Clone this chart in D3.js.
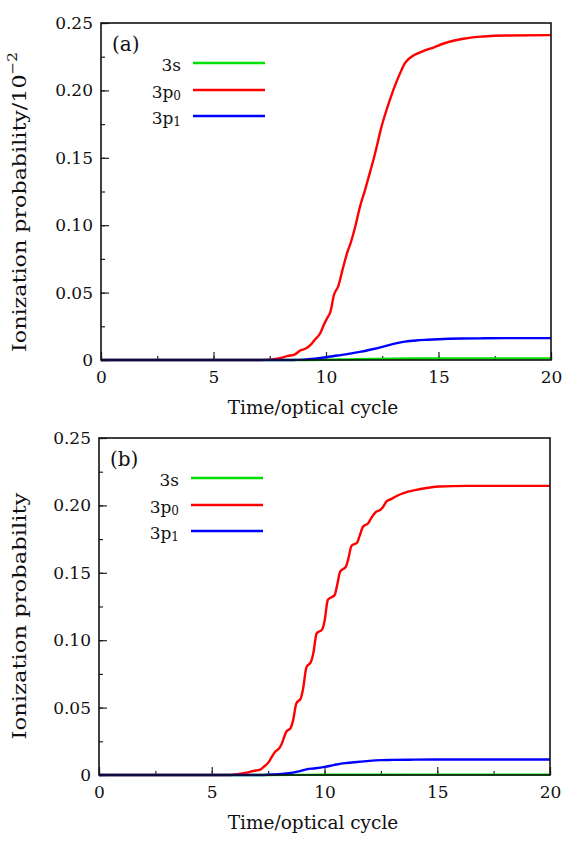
<!DOCTYPE html>
<html><head><meta charset="utf-8">
<script src="https://cdn.jsdelivr.net/npm/d3@7"></script>
<style>
html,body{margin:0;padding:0;background:#fff;}
text{font-family:"DejaVu Serif",serif;fill:#111;}
</style></head>
<body><svg id="c" width="566" height="841"></svg>
<script>
// ---- data ----
const xTicks = [0, 5, 10, 15, 20];
const yTicks = [0, 0.05, 0.10, 0.15, 0.20, 0.25];
const seriesNames = ["3s", "3p0", "3p1"];
const seriesColors = ["#00e000", "#ff0000", "#0000ff"];

// panel (a)  [time, probability]
const a3s = [[0,0],[9,0],[10,0.0002],[11,0.0005],[12,0.0008],[13,0.001],[14,0.0011],[16,0.0012],[20,0.0012]];
const a3p0 = [[0,0],[7.0,0],[7.6,0.0005],[8.0,0.0015],[8.3,0.003],[8.6,0.004],[8.85,0.007],[9.1,0.0085],[9.3,0.011],
  [9.5,0.015],[9.75,0.02],[9.9,0.026],[10.05,0.031],[10.2,0.036],[10.35,0.048],[10.55,0.055],[10.75,0.068],
  [10.95,0.08],[11.1,0.087],[11.3,0.099],[11.5,0.113],[11.75,0.127],[11.9,0.136],[12.1,0.148],[12.25,0.158],
  [12.45,0.172],[12.7,0.186],[12.9,0.196],[13.1,0.205],[13.3,0.213],[13.5,0.22],[13.65,0.223],[13.9,0.226],
  [14.3,0.229],[14.8,0.232],[15.2,0.2346],[15.7,0.237],[16.1,0.2383],[16.6,0.2395],[17,0.240],[18,0.2407],[20,0.241]];
const a3p1 = [[0,0],[8.5,0],[9.0,0.0003],[9.5,0.001],[10,0.002],[10.5,0.0033],[11,0.0045],[11.5,0.006],[12,0.0078],
  [12.5,0.0098],[13,0.012],[13.5,0.0136],[14,0.0145],[14.5,0.015],[15,0.0154],[16,0.0159],[17,0.0161],[18,0.0162],[20,0.0162]];

// panel (b)
const b3s = [[0,0],[7.5,0],[9,0.0001],[11,0.0002],[14,0.0003],[20,0.0003]];
const b3p0 = [[0,0],[5.8,0],[6.2,0.0007],[6.6,0.002],[6.85,0.003],[7.15,0.004],[7.3,0.006],[7.5,0.009],[7.65,0.013],
  [7.8,0.017],[8.0,0.02],[8.1,0.023],[8.3,0.032],[8.5,0.035],[8.6,0.04],[8.75,0.053],[8.95,0.057],[9.05,0.064],
  [9.2,0.08],[9.4,0.084],[9.5,0.09],[9.65,0.105],[9.9,0.108],[10.0,0.114],[10.15,0.13],[10.45,0.1335],[10.55,0.14],
  [10.7,0.151],[10.95,0.1545],[11.05,0.16],[11.2,0.17],[11.45,0.1725],[11.55,0.177],[11.7,0.184],[11.95,0.187],
  [12.05,0.19],[12.25,0.1947],[12.5,0.197],[12.6,0.199],[12.75,0.203],[13.0,0.205],[13.2,0.207],[13.6,0.2097],
  [14.2,0.212],[15.1,0.214],[16.3,0.2145],[20,0.2145]];
const b3p1 = [[0,0],[7.3,0],[7.8,0.0005],[8.4,0.0013],[8.8,0.0025],[9.2,0.0042],[9.6,0.005],[10.0,0.006],[10.4,0.0073],
  [10.8,0.0086],[11.2,0.0093],[11.6,0.0099],[12.0,0.0105],[12.5,0.011],[13,0.0112],[14,0.0114],[16,0.0115],[20,0.0115]];

const panels = [
  {tag:"(a)", series:[a3s,a3p0,a3p1], ylabel:"Ionization probability/10", sup:"\u22122",
   box:{l:101,r:551,t:23,b:360}, ylab:{x:20, y:202, len:300}},
  {tag:"(b)", series:[b3s,b3p0,b3p1], ylabel:"Ionization probability", sup:null,
   box:{l:99,r:550,t:438,b:775}, ylab:{x:20, y:616, len:247}}
];

const svg = d3.select("#c");
const FS = 17;

panels.forEach(p => {
  const B = p.box;
  const x = d3.scaleLinear().domain([0,20]).range([B.l,B.r]);
  const y = d3.scaleLinear().domain([0,0.25]).range([B.b,B.t]);
  const g = svg.append("g");

  // minor ticks
  g.append("g").attr("transform",`translate(${B.l},0)`)
    .call(d3.axisLeft(y).tickValues(d3.range(0,0.2501,0.025)).tickSize(-4).tickFormat(""))
    .call(s=>s.select(".domain").remove())
    .call(s=>s.selectAll("line").attr("stroke","#222").attr("stroke-width",1.2));
  g.append("g").attr("transform",`translate(0,${B.b})`)
    .call(d3.axisBottom(x).tickValues(d3.range(0,20.01,2.5)).tickSize(-4).tickFormat(""))
    .call(s=>s.select(".domain").remove())
    .call(s=>s.selectAll("line").attr("stroke","#222").attr("stroke-width",1.2));

  // major ticks with labels
  g.append("g").attr("transform",`translate(${B.l},0)`)
    .call(d3.axisLeft(y).tickValues(yTicks).tickSize(-8).tickPadding(8)
      .tickFormat(d => d===0 ? "0" : d3.format(".2f")(d)))
    .call(s=>s.select(".domain").remove())
    .call(s=>s.selectAll("line").attr("stroke","#222").attr("stroke-width",1.2))
    .call(s=>s.selectAll("text").attr("font-family","DejaVu Serif").attr("font-size",FS).attr("fill","#111"));
  g.append("g").attr("transform",`translate(0,${B.b})`)
    .call(d3.axisBottom(x).tickValues(xTicks).tickSize(-8).tickPadding(11))
    .call(s=>s.select(".domain").remove())
    .call(s=>s.selectAll("line").attr("stroke","#222").attr("stroke-width",1.2))
    .call(s=>s.selectAll("text").attr("font-family","DejaVu Serif").attr("font-size",FS).attr("fill","#111"));

  // curves
  const line = d3.line().x(d=>x(d[0])).y(d=>y(d[1])).curve(d3.curveMonotoneX);
  p.series.forEach((s,i)=>{
    g.append("path").datum(s).attr("d",line).attr("fill","none")
      .attr("stroke",seriesColors[i]).attr("stroke-width",2.4).attr("stroke-linejoin","round");
  });

  // frame
  g.append("rect").attr("x",B.l).attr("y",B.t).attr("width",B.r-B.l).attr("height",B.b-B.t)
    .attr("fill","none").attr("stroke","#111").attr("stroke-width",1.6);

  // x label
  g.append("text").attr("x",313).attr("y",B.b+54).attr("text-anchor","middle")
    .attr("font-size",18.5).text("Time/optical cycle");
  // y label (stretched along its length to the measured extent)
  const yg = g.append("g");
  const yl = yg.append("text").attr("text-anchor","middle").attr("dominant-baseline","central").attr("font-size",19);
  yl.append("tspan").text(p.ylabel);
  if (p.sup) yl.append("tspan").attr("dy",-8).attr("font-size",13).text(p.sup);
  const w = yl.node().getComputedTextLength();
  const k = p.ylab.len / w;
  yg.attr("transform",`translate(${p.ylab.x},${p.ylab.y}) rotate(-90) scale(${k},1)`);

  // tag
  g.append("text").attr("x",B.l+11).attr("y",B.t+28).attr("font-size",20).text(p.tag);

  // legend
  const legY = [B.t+40, B.t+67, B.t+93];
  seriesNames.forEach((n,i)=>{
    const t = g.append("text").attr("x",B.l+80).attr("y",legY[i]+1.5).attr("text-anchor","end")
      .attr("dominant-baseline","central").attr("font-size",FS);
    if (n.length===3){
      t.append("tspan").text(n.slice(0,2));
      t.append("tspan").attr("dy",4).attr("font-size",12).text(n.slice(2));
    } else t.text(n);
    g.append("line").attr("x1",B.l+92).attr("x2",B.l+164).attr("y1",legY[i]).attr("y2",legY[i])
      .attr("stroke",seriesColors[i]).attr("stroke-width",2.4);
  });
});
</script></body></html>
